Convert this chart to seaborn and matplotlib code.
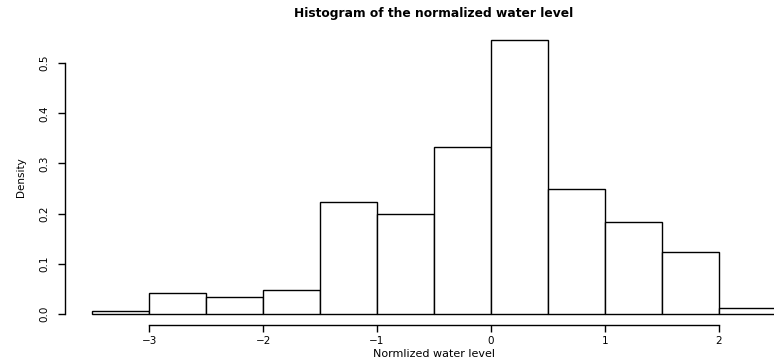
import numpy as np
import pandas as pd
import matplotlib
matplotlib.use("Agg")
import matplotlib.pyplot as plt
import seaborn as sns

sns.set_style("white")
plt.rcParams['font.family'] = ['DejaVu Sans']
plt.rcParams['text.color'] = 'black'
plt.rcParams['axes.labelcolor'] = 'black'
plt.rcParams['xtick.color'] = 'black'
plt.rcParams['ytick.color'] = 'black'

# histogram bins (edges) and density heights
bin_edges = [-3.5, -3.0, -2.5, -2.0, -1.5, -1.0, -0.5, 0.0, 0.5, 1.0, 1.5, 2.0, 2.5]
density = [0.006, 0.041, 0.033, 0.048, 0.223, 0.199, 0.333, 0.546, 0.249, 0.183, 0.123, 0.012]
x_ticks = [-3, -2, -1, 0, 1, 2]
y_ticks = [0.0, 0.1, 0.2, 0.3, 0.4, 0.5]

centers = [(a + b) / 2 for a, b in zip(bin_edges[:-1], bin_edges[1:])]
df = pd.DataFrame({"level": centers, "density": density})

fig = plt.figure(figsize=(7.74, 3.6), dpi=100)
# plot region extends past the right edge like the original
ax = fig.add_axes([65 / 774, 35 / 360, 738 / 774, 296 / 360])

sns.histplot(data=df, x="level", weights="density", bins=bin_edges,
             stat="count", color="white", edgecolor="black", linewidth=1.0,
             alpha=1, ax=ax)

ax.set_xlim(-3.74, 2.74)
ax.set_ylim(-0.0218, 0.568)

for s in ["top", "right"]:
    ax.spines[s].set_visible(False)
ax.spines["left"].set_bounds(0, 0.5)
ax.spines["bottom"].set_bounds(-3, 2)
for s in ["left", "bottom"]:
    ax.spines[s].set_color("black")
    ax.spines[s].set_linewidth(1.0)

ax.set_xticks(x_ticks)
ax.set_xticklabels(["\u22123", "\u22122", "\u22121", "0", "1", "2"], fontsize=7.5)
ax.set_yticks(y_ticks)
ax.set_yticklabels(["0.0", "0.1", "0.2", "0.3", "0.4", "0.5"], fontsize=7.5,
                   rotation=90, va="center")
ax.tick_params(axis="both", direction="out", length=5, width=1.0,
               color="black", left=True, bottom=True, pad=3)
ax.tick_params(axis="y", pad=6)

ax.set_xlabel("Normlized water level", fontsize=8, labelpad=2)
ax.set_ylabel("Density", fontsize=7.5, labelpad=10)
ax.set_title("Histogram of the normalized water level", fontsize=8.8,
             fontweight="bold", pad=9)

fig.savefig("out.png", dpi=100)
